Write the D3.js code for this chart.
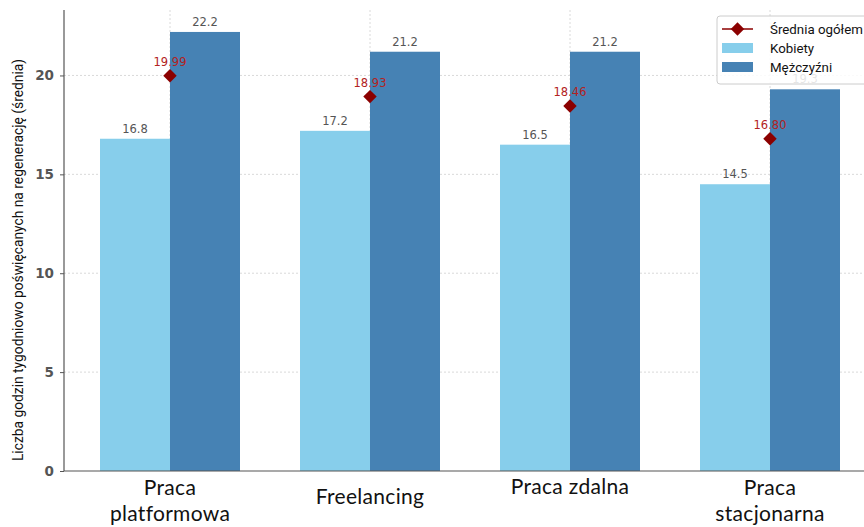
<!DOCTYPE html>
<html>
<head>
<meta charset="utf-8">
<script src="https://cdn.jsdelivr.net/npm/d3@7"></script>
<style>
  html, body { margin: 0; padding: 0; background: #fff; }
  svg { display: block; }
</style>
</head>
<body>
<svg id="chart" width="864" height="527"></svg>
<script>
// Weekly hours spent on recovery, by type of work
const categories = [["Praca", "platformowa"], ["Freelancing"], ["Praca zdalna"], ["Praca", "stacjonarna"]];
const women = [16.8, 17.2, 16.5, 14.5];
const men = [22.2, 21.2, 21.2, 19.3];
const overall = [19.99, 18.93, 18.46, 16.80];
const yTicks = [0, 5, 10, 15, 20];
const seriesNames = ["Średnia ogółem", "Kobiety", "Mężczyźni"];
const yTitle = "Liczba godzin tygodniowo poświęcanych na regenerację (średnia)";

const colWomen = "#87ceeb";
const colMen = "#4682b4";
const colAvg = "#8b0000";

const svg = d3.select("#chart");
const plotLeft = 64, plotBottom = 471, plotTop = 10;

const x = d3.scaleLinear().domain([-0.53, 3.47]).range([plotLeft, 864]);
const y = d3.scaleLinear().domain([0, 23.31]).range([plotBottom, plotTop]);
const barW = x(0.35) - x(0);

// grid
const grid = svg.append("g");
grid.selectAll("line.h").data(yTicks.filter(d => d > 0)).join("line")
  .attr("x1", plotLeft).attr("x2", 864)
  .attr("y1", d => y(d)).attr("y2", d => y(d))
  .attr("stroke", "#d0d0d0").attr("stroke-width", 0.8).attr("stroke-dasharray", "2,2");
grid.selectAll("line.v").data(d3.range(categories.length)).join("line")
  .attr("x1", d => x(d)).attr("x2", d => x(d))
  .attr("y1", plotTop).attr("y2", plotBottom)
  .attr("stroke", "#d0d0d0").attr("stroke-width", 0.8).attr("stroke-dasharray", "2,2");

// bars
svg.append("g").selectAll("rect").data(women).join("rect")
  .attr("x", (d, i) => x(i) - barW).attr("width", barW)
  .attr("y", d => y(d)).attr("height", d => plotBottom - y(d))
  .attr("fill", colWomen);
svg.append("g").selectAll("rect").data(men).join("rect")
  .attr("x", (d, i) => x(i)).attr("width", barW)
  .attr("y", d => y(d)).attr("height", d => plotBottom - y(d))
  .attr("fill", colMen);

// bar value labels
const lbl = svg.append("g").attr("font-family", "DejaVu Sans").attr("font-size", 11.5)
  .attr("fill", "#555").attr("text-anchor", "middle");
lbl.selectAll("text.w").data(women).join("text")
  .attr("x", (d, i) => x(i) - barW / 2).attr("y", d => y(d) - 6).text(d => d.toFixed(1));
lbl.selectAll("text.m").data(men).join("text")
  .attr("x", (d, i) => x(i) + barW / 2).attr("y", d => y(d) - 6).text(d => d.toFixed(1));

// overall average markers
const diamond = d3.symbol().type(d3.symbolDiamond2).size(115);
svg.append("g").selectAll("path").data(overall).join("path")
  .attr("d", diamond)
  .attr("transform", (d, i) => `translate(${x(i)},${y(d)})`)
  .attr("fill", colAvg);
svg.append("g").attr("font-family", "DejaVu Sans").attr("font-size", 11.5)
  .attr("fill", "#b22222").attr("text-anchor", "middle")
  .selectAll("text").data(overall).join("text")
  .attr("x", (d, i) => x(i)).attr("y", d => y(d) - 10).text(d => d.toFixed(2));

// y axis
const yAxis = d3.axisLeft(y).tickValues(yTicks).tickSize(4).tickPadding(6);
const gy = svg.append("g").attr("transform", `translate(${plotLeft},0)`).call(yAxis);
gy.select(".domain").attr("stroke", "#555").attr("stroke-width", 1.2).attr("d", `M0,${plotTop}V${plotBottom}`);
gy.selectAll(".tick line").attr("stroke", "#555");
gy.selectAll(".tick text").attr("font-family", "DejaVu Sans").attr("font-size", 13.5)
  .attr("font-weight", "bold").attr("fill", "#555");

// x axis line
svg.append("line").attr("x1", plotLeft).attr("x2", 864).attr("y1", plotBottom).attr("y2", plotBottom)
  .attr("stroke", "#555").attr("stroke-width", 1.2);

// category labels
const labelY = [495, 504, 494, 495];
const xl = svg.append("g").attr("font-family", "Lato").attr("font-size", 21)
  .attr("letter-spacing", 0.3).attr("fill", "#111").attr("text-anchor", "middle");
xl.selectAll("text").data(categories).join("text")
  .attr("x", (d, i) => x(i))
  .attr("y", (d, i) => labelY[i])
  .each(function (d) {
    d3.select(this).selectAll("tspan").data(d).join("tspan")
      .attr("x", d3.select(this).attr("x"))
      .attr("dy", (t, j) => j === 0 ? 0 : 26)
      .text(t => t);
  });

// y axis title
svg.append("text")
  .attr("transform", `translate(23,260) rotate(-90)`)
  .attr("text-anchor", "middle").attr("font-family", "Roboto").attr("font-size", 13.8)
  .attr("fill", "#111").text(yTitle);

// legend
const lg = svg.append("g").attr("transform", "translate(717,16)");
lg.append("rect").attr("x", 0).attr("y", 0).attr("width", 160).attr("height", 68).attr("rx", 3)
  .attr("fill", "#fff").attr("fill-opacity", 0.85).attr("stroke", "#ccc");
const rowY = d3.range(seriesNames.length).map(i => 13 + i * 19);
lg.append("line").attr("x1", 5).attr("x2", 36).attr("y1", rowY[0]).attr("y2", rowY[0])
  .attr("stroke", colAvg).attr("stroke-width", 1.5);
lg.append("path").attr("d", diamond).attr("transform", `translate(20.5,${rowY[0]})`).attr("fill", colAvg);
lg.append("rect").attr("x", 5).attr("y", rowY[1] - 5).attr("width", 31).attr("height", 10).attr("fill", colWomen);
lg.append("rect").attr("x", 5).attr("y", rowY[2] - 5).attr("width", 31).attr("height", 10).attr("fill", colMen);
lg.selectAll("text").data(seriesNames).join("text")
  .attr("x", 53).attr("y", (d, i) => rowY[i] + 5)
  .attr("font-family", "Roboto").attr("font-size", 13.3).attr("fill", "#111").text(d => d);
</script>
</body>
</html>
